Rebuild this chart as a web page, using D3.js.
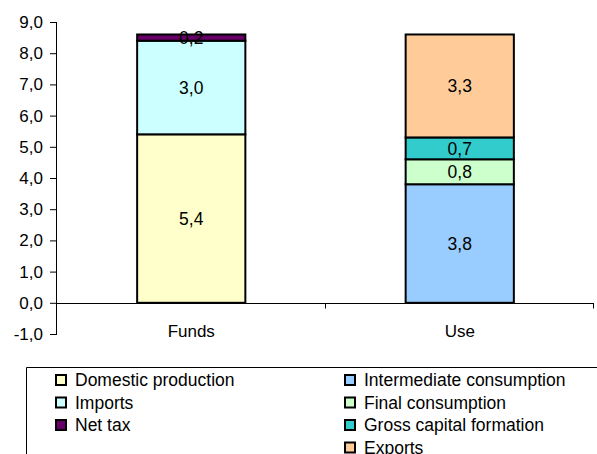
<!DOCTYPE html>
<html><head><meta charset="utf-8">
<script src="https://cdn.jsdelivr.net/npm/d3@7"></script>
<style>
body{margin:0;background:#fff;}
svg{display:block;font-family:"Liberation Sans",Arial,sans-serif;}
</style></head>
<body>
<svg id="chart" width="597" height="454"></svg>
<script>
const categories = ["Funds", "Use"];
const seriesNames = ["Domestic production", "Imports", "Net tax",
  "Intermediate consumption", "Final consumption", "Gross capital formation", "Exports"];
const fundsValues = [5.4, 3.0, 0.2, 0, 0, 0, 0];
const useValues   = [0, 0, 0, 3.8, 0.8, 0.7, 3.3];
const seriesColors = ["#FFFFCC", "#CCFFFF", "#660066", "#99CCFF", "#CCFFCC", "#33CCCC", "#FFCC99"];
const yTicks = [-1, 0, 1, 2, 3, 4, 5, 6, 7, 8, 9];
const legendCol1 = ["Domestic production", "Imports", "Net tax"];
const legendCol2 = ["Intermediate consumption", "Final consumption", "Gross capital formation", "Exports"];

const fmt = d => d.toFixed(1).replace(".", ",");
const svg = d3.select("#chart");

const plotL = 57, plotR = 594, plotT = 22, plotB = 334;
const y = d3.scaleLinear().domain([-1, 9]).range([plotB, plotT]);
const x = d3.scaleBand().domain(categories).range([plotL, plotR]).paddingInner(0).paddingOuter(0);
const barW = x.bandwidth() * 0.403;

const rows = categories.map((c, i) => {
  const r = {cat: c};
  seriesNames.forEach((s, j) => r[s] = (i === 0 ? fundsValues : useValues)[j]);
  return r;
});
const stacked = d3.stack().keys(seriesNames)(rows);
const color = d3.scaleOrdinal().domain(seriesNames).range(seriesColors);

// y axis
const yAxis = svg.append("g").attr("transform", `translate(${plotL},0)`)
  .call(d3.axisLeft(y).tickValues(yTicks).tickFormat(fmt).tickSize(7).tickPadding(7));
yAxis.select(".domain").attr("d", `M-0.5,${plotT}V${plotB}`).attr("stroke", "#000");
yAxis.selectAll(".tick line").attr("stroke", "#000");
yAxis.selectAll("text").attr("font-size", 17).attr("fill", "#000")
  .attr("font-family", "'Liberation Sans',Arial,sans-serif");

// x axis at zero
const y0 = Math.round(y(0)) + 0.5;
const xAxis = svg.append("g").attr("transform", `translate(0,${y0})`);
xAxis.append("line").attr("x1", plotL).attr("x2", plotR).attr("stroke", "#000");
const bounds = categories.map(c => x(c) + x.bandwidth());
xAxis.selectAll("line.t").data(bounds).join("line").attr("class", "t")
  .attr("x1", d => Math.round(d) - 0.5).attr("x2", d => Math.round(d) - 0.5)
  .attr("y1", 0).attr("y2", 5).attr("stroke", "#000");
svg.append("g").selectAll("text").data(categories).join("text")
  .attr("x", d => x(d) + x.bandwidth() / 2).attr("y", 337)
  .attr("text-anchor", "middle").attr("font-size", 17).text(d => d);

// bars
const segs = svg.append("g");
stacked.forEach(layer => {
  layer.forEach((d, i) => {
    const v = d[1] - d[0];
    if (v <= 0) return;
    const cx = x(categories[i]) + x.bandwidth() / 2;
    segs.append("rect")
      .attr("x", cx - barW / 2).attr("width", barW)
      .attr("y", y(d[1])).attr("height", y(d[0]) - y(d[1]))
      .attr("fill", color(layer.key)).attr("stroke", "#000").attr("stroke-width", 2);
  });
});
stacked.forEach(layer => {
  layer.forEach((d, i) => {
    const v = d[1] - d[0];
    if (v <= 0) return;
    const cx = x(categories[i]) + x.bandwidth() / 2;
    segs.append("text").attr("x", cx).attr("y", (y(d[0]) + y(d[1])) / 2)
      .attr("dy", "0.36em").attr("text-anchor", "middle").attr("font-size", 17.5)
      .text(fmt(v));
  });
});

// legend
const lg = svg.append("g");
lg.append("path").attr("d", `M26.5,454V367.5H597`).attr("fill", "none").attr("stroke", "#000");
const rowH = 22.5, row0 = 380;
function legendCol(items, sx) {
  items.forEach((s, k) => {
    const cy = row0 + k * rowH;
    lg.append("rect").attr("x", sx).attr("y", cy - 5).attr("width", 10).attr("height", 10)
      .attr("fill", color(s)).attr("stroke", "#000").attr("stroke-width", 2);
    lg.append("text").attr("x", sx + 19).attr("y", cy).attr("dy", "0.36em")
      .attr("font-size", 17.5).text(s);
  });
}
legendCol(legendCol1, 56);
legendCol(legendCol2, 345);
</script>
</body></html>
